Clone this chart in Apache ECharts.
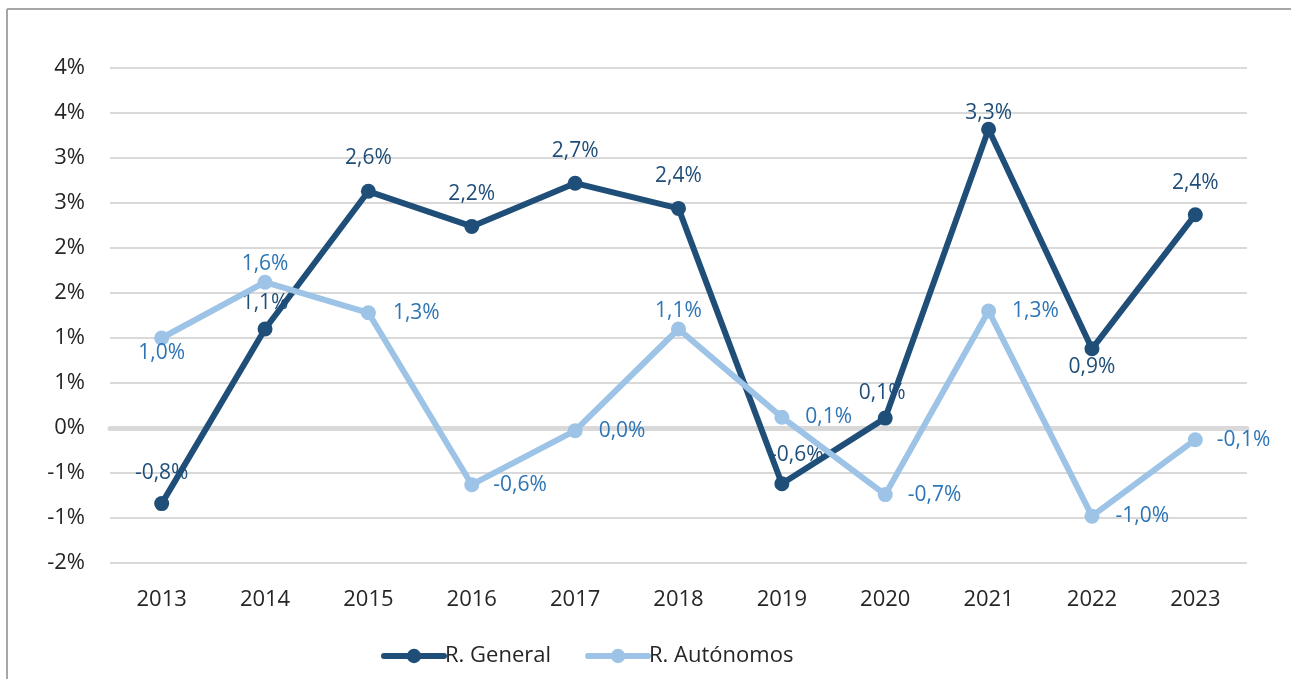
<!DOCTYPE html>
<html>
<head>
<meta charset="utf-8">
<script src="https://cdn.jsdelivr.net/npm/echarts@6/dist/echarts.min.js"></script>
<style>
	html, body { margin: 0; padding: 0; background: #fff; }
	#chart { width: 1291px; height: 679px; }
</style>
</head>
<body>
<div id="chart"></div>
<script>
	// datos
	const years = ['2013', '2014', '2015', '2016', '2017', '2018', '2019', '2020', '2021', '2022', '2023'];
	const general = [-0.84, 1.10, 2.63, 2.24, 2.72, 2.44, -0.62, 0.11, 3.32, 0.88, 2.37];
	const autonomos = [1.00, 1.62, 1.28, -0.63, -0.03, 1.10, 0.12, -0.74, 1.30, -0.98, -0.13];
	const seriesNames = ['R. General', 'R. Autónomos'];

	// posicion de las etiquetas (solo estilo)
	const genLabelPos = ['top', 'top', 'top', 'top', 'top', 'top', 'top', 'top', 'top', 'bottom', 'top'];
	const genLabelDist = [13, 8, 15, 14, 14, 14, 11, 7, -2, 0, 14];
	const genLabelOffX = [0, 0, 0, 0, 0, 0, 15, -3, 0, 0, 0];
	const autLabelPos = ['bottom', 'top', 'right', 'right', 'right', 'top', 'right', 'right', 'right', 'right', 'right'];
	const autLabelDist = [-3, 0, 17, 14, 16, 0, 16, 15, 16, 16, 14];

	const FONT = '"Open Sans", "Noto Sans", sans-serif';
	const fmtPct = v => {
		let s = (Math.round(v * 10) / 10).toFixed(1);
		if (s === '-0.0') s = '0.0';
		return s.replace('.', ',') + '%';
	};
	// como Excel: redondeo alejado de cero
	const fmtAxis = v => {
		const r = Math.sign(v) * Math.round(Math.abs(v));
		return (r === 0 ? 0 : r) + '%';
	};

	function buildData(values, pos, dist, offX) {
		return values.map((v, i) => ({
			value: v,
			label: {
				position: pos[i],
				distance: dist[i],
				offset: [offX ? offX[i] : 0, 0]
			}
		}));
	}

	const chart = echarts.init(document.getElementById('chart'));
	chart.setOption({
		animation: false,
		backgroundColor: '#fff',
		textStyle: { fontFamily: FONT },
		graphic: [
			{ type: 'line', shape: { x1: 7, y1: 9, x2: 1291, y2: 9 }, style: { stroke: '#a6a6a6', lineWidth: 2 } },
			{ type: 'line', shape: { x1: 7, y1: 9, x2: 7, y2: 679 }, style: { stroke: '#a6a6a6', lineWidth: 2 } }
		],
		grid: { left: 110, right: 44, top: 68, bottom: 116 },
		legend: {
			data: seriesNames,
			left: 376,
			top: 640,
			itemWidth: 60,
			itemHeight: 18,
			itemGap: 34,
			lineStyle: { width: 6, cap: 'round' },
			textStyle: { fontFamily: FONT, fontSize: 22, color: '#262626', padding: [0, 0, 0, -4] }
		},
		xAxis: [
			{
				type: 'category',
				data: years,
				boundaryGap: true,
				axisLine: { show: false, onZero: false },
				axisTick: { show: false },
				axisLabel: { fontFamily: FONT, fontSize: 22, color: '#262626', margin: 26 },
				splitLine: { show: false }
			},
			{
				// linea del cero
				type: 'category',
				data: years,
				position: 'bottom',
				axisLine: { show: true, onZero: true, lineStyle: { color: '#d9d9d9', width: 5 } },
				axisTick: { show: false },
				axisLabel: { show: false },
				splitLine: { show: false }
			}
		],
		yAxis: {
			type: 'value',
			min: -1.5,
			max: 4,
			interval: 0.5,
			axisLine: { show: false },
			axisTick: { show: false },
			axisLabel: { fontFamily: FONT, fontSize: 22, color: '#262626', margin: 25, formatter: fmtAxis },
			splitLine: { lineStyle: { color: '#d9d9d9', width: 2 } }
		},
		series: [
			{
				name: seriesNames[0],
				type: 'line',
				data: buildData(general, genLabelPos, genLabelDist, genLabelOffX),
				symbol: 'circle',
				symbolSize: 15,
				lineStyle: { width: 6, color: '#1f4e79', cap: 'round', join: 'round' },
				itemStyle: { color: '#1f4e79' },
				label: {
					show: true,
					fontFamily: FONT,
					fontSize: 21,
					color: '#1f4e79',
					formatter: p => fmtPct(p.value)
				},
				z: 2
			},
			{
				name: seriesNames[1],
				type: 'line',
				data: buildData(autonomos, autLabelPos, autLabelDist),
				symbol: 'circle',
				symbolSize: 15,
				lineStyle: { width: 6, color: '#9dc3e6', cap: 'round', join: 'round' },
				itemStyle: { color: '#9dc3e6' },
				label: {
					show: true,
					fontFamily: FONT,
					fontSize: 21,
					color: '#2e75b6',
					formatter: p => fmtPct(p.value)
				},
				z: 3
			}
		]
	});
</script>
</body>
</html>
